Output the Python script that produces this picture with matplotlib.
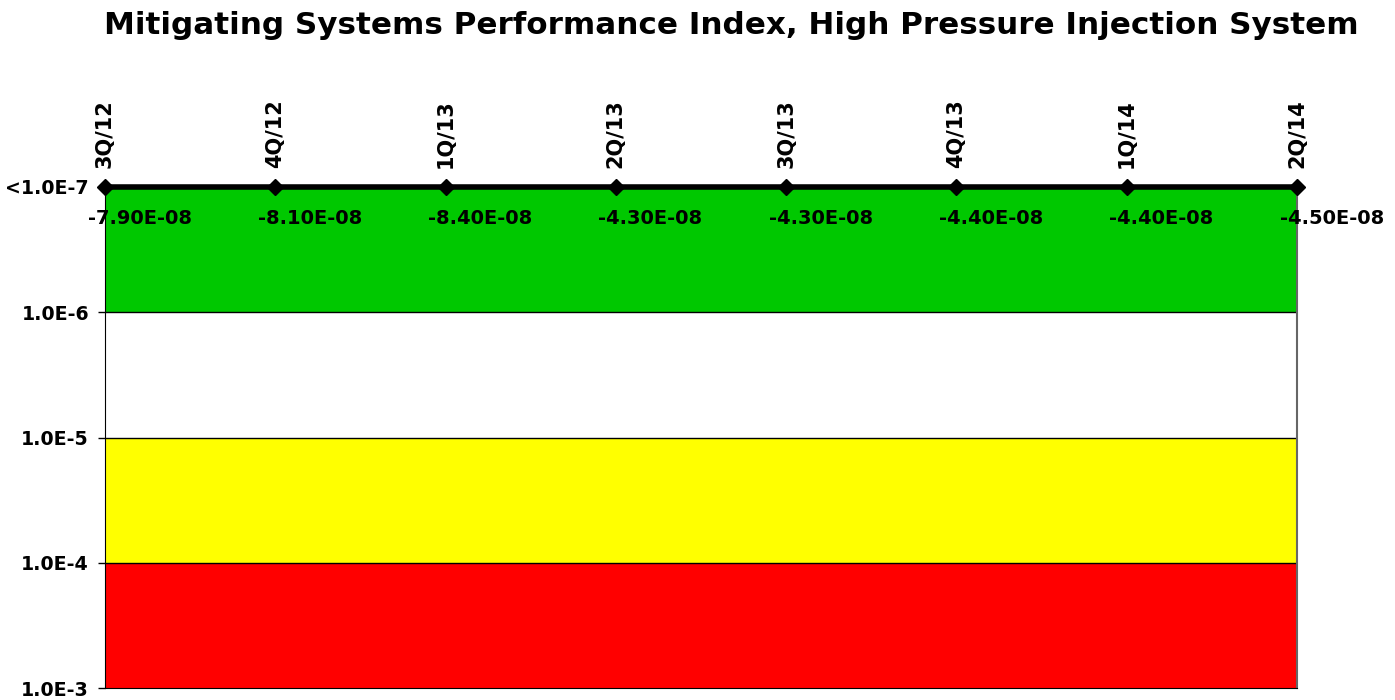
import numpy as np
import matplotlib
matplotlib.use("Agg")
import matplotlib.pyplot as plt
from matplotlib.ticker import FixedLocator, NullLocator

quarters = ["3Q/12", "4Q/12", "1Q/13", "2Q/13", "3Q/13", "4Q/13", "1Q/14", "2Q/14"]
values = [-7.90e-08, -8.10e-08, -8.40e-08, -4.30e-08, -4.30e-08, -4.40e-08, -4.40e-08, -4.50e-08]
value_labels = ["-7.90E-08", "-8.10E-08", "-8.40E-08", "-4.30E-08", "-4.30E-08", "-4.40E-08", "-4.40E-08", "-4.50E-08"]
y_ticks = [1e-7, 1e-6, 1e-5, 1e-4, 1e-3]
y_tick_labels = ["<1.0E-7", "1.0E-6", "1.0E-5", "1.0E-4", "1.0E-3"]
bands = [(1e-7, 1e-6, "#00C800"), (1e-6, 1e-5, "#FFFFFF"), (1e-5, 1e-4, "#FFFF00"), (1e-4, 1e-3, "#FF0000")]
title = "Mitigating Systems Performance Index, High Pressure Injection System"

plt.rcParams['font.family'] = ['DejaVu Sans']
W, H = 1395, 700
fig = plt.figure(figsize=(W / 100, H / 100), dpi=100)
L, R, T, B = 105, 1297, 187, 688
ax = fig.add_axes([L / W, (H - B) / H, (R - L) / W, (B - T) / H])

ax.set_yscale('log')
ax.set_ylim(1e-3, 1e-7)
x = np.arange(len(quarters))
ax.set_xlim(x[0], x[-1])

for lo, hi, c in bands:
    ax.axhspan(lo, hi, color=c, zorder=0, lw=0)
for yb in [1e-6, 1e-5, 1e-4]:
    ax.axhline(yb, color='black', lw=1, zorder=1)

floor = y_ticks[0]
plotted = np.where(np.array(values) < floor, floor, np.array(values))
ax.plot(x, plotted, color='black', lw=4, marker='D', ms=8, clip_on=False, zorder=5)

for xi, yi, lab in zip(x, plotted, value_labels):
    ax.annotate(lab, (xi, yi), xytext=(-12.5, -22.5), textcoords='offset points',
                ha='left', va='center', fontsize=14, fontweight='bold', color='black',
                annotation_clip=False, zorder=6)

ax.yaxis.set_major_locator(FixedLocator(y_ticks))
ax.yaxis.set_minor_locator(NullLocator())
ax.set_yticklabels(y_tick_labels, fontsize=13.7, fontweight='bold')
ax.tick_params(axis='y', length=5, width=1, pad=6.5, direction='out')

ax.xaxis.tick_top()
ax.set_xticks(x)
ax.set_xticklabels(quarters, rotation=90, fontsize=15, fontweight='bold')
ax.tick_params(axis='x', length=0, pad=14)

ax.spines['top'].set_visible(False)
ax.spines['right'].set_color('#666666')
ax.spines['right'].set_linewidth(1.5)
ax.spines['left'].set_color('black')
ax.spines['bottom'].set_color('black')

fig.text(731 / W, 1 - 25 / H, title, ha='center', va='center', fontsize=22.3, fontweight='bold')

fig.savefig("out.png", dpi=100)
